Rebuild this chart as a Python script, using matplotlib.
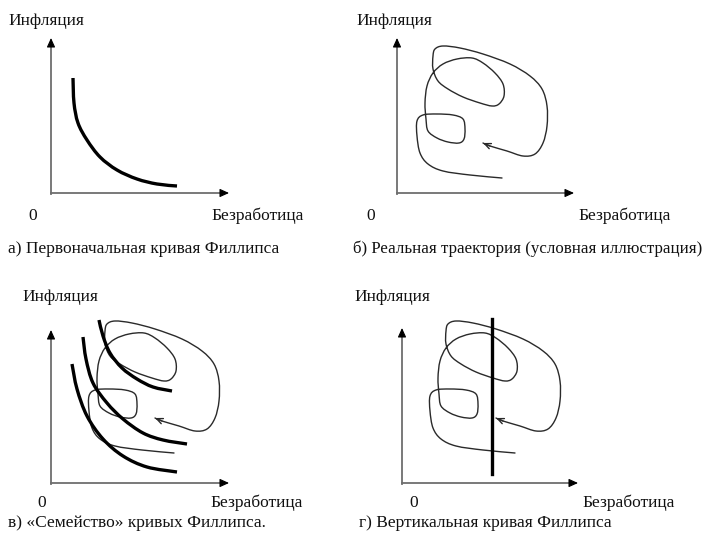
import matplotlib
matplotlib.use("Agg")
import matplotlib.pyplot as plt
import numpy as np
from matplotlib.path import Path
from matplotlib.patches import PathPatch

plt.rcParams['font.family'] = ['Liberation Serif', 'DejaVu Serif']

# panel texts
y_label = "Инфляция"
x_label = "Безработица"
zero_label = "0"
captions = ["а) Первоначальная кривая Филлипса",
            "б) Реальная траектория (условная иллюстрация)",
            "в) «Семейство» кривых Филлипса.",
            "г) Вертикальная кривая Филлипса"]

# schematic points, (unemployment, inflation) measured from each panel origin
phillips_a = [(22, 115), (23, 90), (27, 70), (36, 53), (49, 36), (66, 23),
              (86, 14), (106, 9), (126, 7)]

trajectory = [(105, 15), (73, 18), (46, 22), (31, 29), (23, 40), (20, 57), (20, 72),
              (26, 78), (40, 79), (56, 78), (66, 74), (68, 64), (67, 54), (62, 50),
              (51, 51), (40, 55), (31, 62), (29, 74), (28, 90), (30, 107), (36, 120),
              (46, 129), (60, 134), (75, 135), (86, 130), (98, 120), (106, 109),
              (107, 97), (102, 89), (95, 87), (83, 90), (66, 96), (51, 104), (41, 112),
              (36, 124), (36, 137), (38, 144), (46, 147), (63, 145), (86, 139),
              (113, 129), (133, 117), (145, 104), (150, 87), (150, 67), (146, 50),
              (138, 39), (126, 37), (110, 42), (93, 47), (86, 50)]

family_curves = [
    [(48, 163), (52, 147), (59, 130), (71, 115), (86, 104), (102, 96), (121, 92)],
    [(32, 146), (35, 124), (42, 100), (56, 80), (72, 64), (92, 50), (112, 43), (136, 39)],
    [(21, 119), (26, 94), (36, 67), (52, 44), (72, 27), (96, 16), (126, 11)],
]

vertical_x = 90
vertical_span = (9, 164)

# panel layout in pixels
origins = {"a": (51, 193), "b": (397, 193), "c": (51, 483), "d": (402, 483)}
traj_shift = {"b": (0, 0), "c": (18, 15), "d": (8, 15)}


def smooth_path(pts, ox, oy):
    p = np.array([(ox + u, oy - v) for u, v in pts], dtype=float)
    ext = np.vstack([p[0], p, p[-1]])
    verts = [p[0]]
    codes = [Path.MOVETO]
    for i in range(1, len(ext) - 2):
        c1 = ext[i] + (ext[i + 1] - ext[i - 1]) / 6
        c2 = ext[i + 1] - (ext[i + 2] - ext[i]) / 6
        verts += [c1, c2, ext[i + 1]]
        codes += [Path.CURVE4] * 3
    return Path(verts, codes)


fig = plt.figure(figsize=(7.08, 5.33), dpi=100)
ax = fig.add_axes([0, 0, 1, 1])
ax.set_xlim(0, 708)
ax.set_ylim(533, 0)
ax.axis('off')

axis_color = '#6e6e6e'
text_kw = dict(fontsize=12.5, color='#111111', va='center')
head = dict(arrowstyle='-|>,head_length=0.55,head_width=0.25',
            color='black', lw=0.8, shrinkA=0, shrinkB=0)


def draw_axes(ox, oy, xlen, ylen):
    ax.plot([ox, ox], [oy + 0.5, oy - ylen + 6], color=axis_color, lw=1.3)
    ax.plot([ox - 0.5, ox + xlen - 6], [oy, oy], color=axis_color, lw=1.3)
    ax.annotate('', xy=(ox, oy - ylen), xytext=(ox, oy - ylen + 8), arrowprops=head)
    ax.annotate('', xy=(ox + xlen, oy), xytext=(ox + xlen - 8, oy), arrowprops=head)


def draw_traj(ox, oy):
    path = smooth_path(trajectory, ox, oy)
    ax.add_patch(PathPatch(path, fill=False, lw=1.0, ec='#2a2a2a', capstyle='round'))
    u1, v1 = trajectory[-2]
    u2, v2 = trajectory[-1]
    ax.annotate('', xy=(ox + u2, oy - v2), xytext=(ox + u1, oy - v1),
                arrowprops=dict(arrowstyle='->,head_length=0.45,head_width=0.2',
                                color='#2a2a2a', lw=1.0, shrinkA=0, shrinkB=0))


# panel a
ox, oy = origins["a"]
draw_axes(ox, oy, 178, 155)
ax.add_patch(PathPatch(smooth_path(phillips_a, ox, oy), fill=False, lw=2.4, ec='black'))
ax.text(8, 21, y_label, **text_kw)
ax.text(33, 216, zero_label, ha='center', **text_kw)
ax.text(211, 216, x_label, **text_kw)
ax.text(8, 249, captions[0], **text_kw)

# panel b
ox, oy = origins["b"]
draw_axes(ox, oy, 177, 155)
sx, sy = traj_shift["b"]
draw_traj(ox + sx, oy - sy)
ax.text(356, 21, y_label, **text_kw)
ax.text(371, 216, zero_label, ha='center', **text_kw)
ax.text(578, 216, x_label, **text_kw)
ax.text(353, 249, captions[1], **dict(text_kw, fontsize=12.2))

# panel c
ox, oy = origins["c"]
draw_axes(ox, oy, 178, 153)
sx, sy = traj_shift["c"]
draw_traj(ox + sx, oy - sy)
for curve in family_curves:
    ax.add_patch(PathPatch(smooth_path(curve, ox, oy), fill=False, lw=2.4, ec='black'))
ax.text(22, 297, y_label, **text_kw)
ax.text(42, 503, zero_label, ha='center', **text_kw)
ax.text(210, 503, x_label, **text_kw)
ax.text(8, 523, captions[2], **text_kw)

# panel d
ox, oy = origins["d"]
draw_axes(ox, oy, 176, 155)
sx, sy = traj_shift["d"]
draw_traj(ox + sx, oy - sy)
ax.plot([ox + vertical_x] * 2, [oy - vertical_span[0], oy - vertical_span[1]],
        color='black', lw=2.4)
ax.text(354, 297, y_label, **text_kw)
ax.text(414, 503, zero_label, ha='center', **text_kw)
ax.text(582, 503, x_label, **text_kw)
ax.text(359, 523, captions[3], **text_kw)

fig.savefig('out.png', dpi=100, facecolor='white')
